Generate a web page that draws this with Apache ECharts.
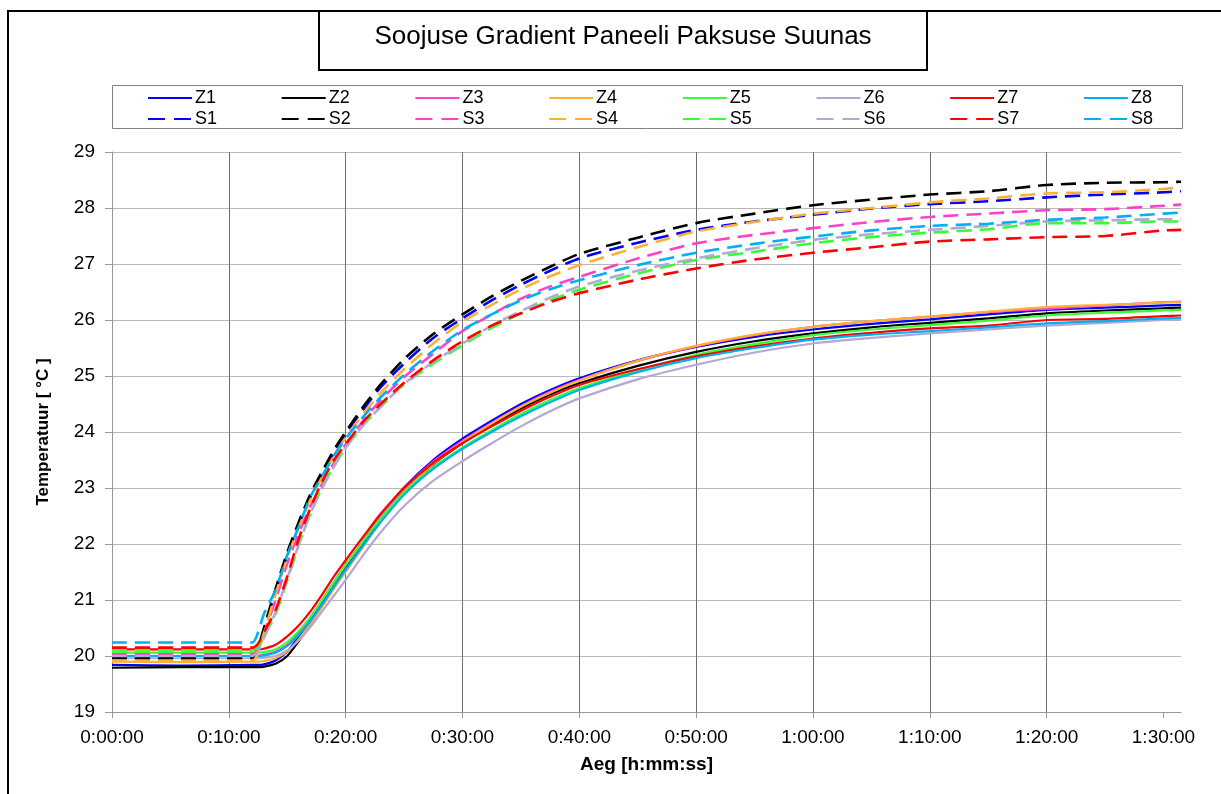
<!DOCTYPE html>
<html>
<head>
<meta charset="utf-8">
<script src="https://cdn.jsdelivr.net/npm/echarts@6/dist/echarts.min.js"></script>
<style>
  html, body { margin: 0; padding: 0; background: #fff; }
  #chart { width: 1221px; height: 794px; }
</style>
</head>
<body>
<div id="chart"></div>
<script>
// aeg minutites
const minutes = [0, 6, 12, 12.5, 13, 14, 15, 16, 17, 18, 19, 20, 21.5, 23, 25, 27.5, 30, 32.5, 35, 37.5, 40, 45, 50, 55, 60, 65, 70, 75, 80, 85, 90, 91.5];
const xTicks = [0, 10, 20, 30, 40, 50, 60, 70, 80, 90];

const z1 = [19.84, 19.83, 19.84, 19.84, 19.85, 19.92, 20.08, 20.35, 20.65, 20.97, 21.3, 21.6, 22.05, 22.5, 23.01, 23.5, 23.88, 24.2, 24.5, 24.75, 24.96, 25.28, 25.52, 25.7, 25.83, 25.93, 26.01, 26.1, 26.18, 26.22, 26.26, 26.27];
const z2 = [19.79, 19.8, 19.8, 19.8, 19.81, 19.86, 20.0, 20.27, 20.58, 20.9, 21.23, 21.55, 21.98, 22.42, 22.93, 23.42, 23.8, 24.12, 24.42, 24.67, 24.87, 25.18, 25.43, 25.62, 25.76, 25.87, 25.95, 26.03, 26.12, 26.17, 26.21, 26.22];
const z3 = [20.0, 20.0, 20.0, 20.0, 20.02, 20.08, 20.2, 20.42, 20.7, 21.0, 21.32, 21.62, 22.05, 22.49, 22.99, 23.47, 23.84, 24.16, 24.46, 24.72, 24.93, 25.27, 25.53, 25.73, 25.88, 25.98, 26.06, 26.14, 26.2, 26.26, 26.32, 26.33];
const z4 = [19.9, 19.89, 19.9, 19.9, 19.91, 19.96, 20.08, 20.3, 20.58, 20.88, 21.2, 21.5, 21.95, 22.41, 22.93, 23.43, 23.82, 24.15, 24.45, 24.7, 24.92, 25.27, 25.54, 25.74, 25.88, 25.98, 26.06, 26.15, 26.23, 26.27, 26.31, 26.32];
const z5 = [20.06, 20.06, 20.06, 20.06, 20.07, 20.12, 20.25, 20.45, 20.7, 21.0, 21.32, 21.63, 22.05, 22.46, 22.92, 23.37, 23.72, 24.03, 24.32, 24.57, 24.78, 25.1, 25.38, 25.57, 25.73, 25.83, 25.91, 25.99, 26.08, 26.13, 26.17, 26.18];
const z6 = [19.96, 19.96, 19.96, 19.96, 19.97, 20.0, 20.1, 20.28, 20.52, 20.8, 21.08, 21.36, 21.8, 22.21, 22.68, 23.13, 23.48, 23.8, 24.1, 24.37, 24.6, 24.94, 25.2, 25.42, 25.58, 25.68, 25.76, 25.83, 25.9, 25.95, 26.0, 26.01];
const z7 = [20.12, 20.12, 20.12, 20.12, 20.13, 20.2, 20.35, 20.55, 20.8, 21.1, 21.42, 21.71, 22.13, 22.54, 23.0, 23.45, 23.8, 24.1, 24.38, 24.63, 24.84, 25.12, 25.35, 25.53, 25.67, 25.77, 25.85, 25.9, 26.0, 26.02, 26.07, 26.08];
const z8 = [20.0, 20.0, 20.0, 20.0, 20.01, 20.06, 20.18, 20.38, 20.63, 20.92, 21.24, 21.54, 21.97, 22.39, 22.88, 23.34, 23.7, 24.0, 24.28, 24.53, 24.75, 25.07, 25.32, 25.5, 25.65, 25.74, 25.8, 25.87, 25.94, 25.98, 26.03, 26.04];

const s1 = [19.96, 19.95, 19.96, 20.1, 20.45, 21.15, 21.8, 22.35, 22.85, 23.25, 23.63, 23.97, 24.4, 24.8, 25.22, 25.68, 26.03, 26.35, 26.63, 26.88, 27.1, 27.38, 27.61, 27.76, 27.88, 27.99, 28.07, 28.12, 28.19, 28.24, 28.28, 28.3];
const s2 = [19.97, 19.96, 19.97, 20.15, 20.5, 21.2, 21.85, 22.4, 22.9, 23.3, 23.68, 24.0, 24.45, 24.85, 25.3, 25.75, 26.1, 26.42, 26.7, 26.95, 27.18, 27.47, 27.73, 27.9, 28.05, 28.15, 28.24, 28.3, 28.41, 28.45, 28.46, 28.47];
const s3 = [20.03, 20.03, 20.03, 20.12, 20.4, 21.0, 21.65, 22.2, 22.68, 23.08, 23.45, 23.78, 24.2, 24.57, 24.98, 25.4, 25.8, 26.1, 26.38, 26.6, 26.77, 27.1, 27.37, 27.52, 27.64, 27.75, 27.84, 27.9, 27.96, 27.98, 28.04, 28.06];
const s4 = [19.92, 19.92, 19.92, 20.05, 20.4, 21.1, 21.75, 22.3, 22.8, 23.2, 23.57, 23.9, 24.32, 24.7, 25.12, 25.58, 25.97, 26.27, 26.55, 26.78, 26.98, 27.3, 27.58, 27.75, 27.9, 28.0, 28.1, 28.17, 28.26, 28.28, 28.34, 28.37];
const s5 = [20.1, 20.1, 20.1, 20.15, 20.35, 20.75, 21.35, 22.0, 22.55, 23.02, 23.4, 23.72, 24.12, 24.45, 24.85, 25.22, 25.55, 25.86, 26.12, 26.35, 26.54, 26.83, 27.07, 27.22, 27.37, 27.48, 27.56, 27.62, 27.73, 27.73, 27.76, 27.76];
const s6 = [20.0, 20.0, 20.0, 20.08, 20.32, 20.78, 21.38, 22.0, 22.55, 23.0, 23.38, 23.72, 24.12, 24.45, 24.86, 25.25, 25.58, 25.9, 26.16, 26.4, 26.6, 26.88, 27.1, 27.28, 27.43, 27.53, 27.61, 27.68, 27.76, 27.78, 27.8, 27.8];
const s7 = [20.15, 20.15, 20.15, 20.22, 20.42, 20.82, 21.42, 22.1, 22.65, 23.12, 23.5, 23.78, 24.18, 24.5, 24.88, 25.28, 25.62, 25.9, 26.12, 26.32, 26.48, 26.72, 26.92, 27.08, 27.2, 27.3, 27.4, 27.44, 27.48, 27.5, 27.6, 27.61];
const s8 = [20.24, 20.24, 20.24, 20.42, 20.75, 21.18, 21.8, 22.32, 22.85, 23.22, 23.58, 23.88, 24.27, 24.62, 25.02, 25.45, 25.82, 26.1, 26.35, 26.55, 26.71, 26.98, 27.2, 27.36, 27.49, 27.6, 27.68, 27.72, 27.79, 27.83, 27.9, 27.92];

const zNames = ['Z1', 'Z2', 'Z3', 'Z4', 'Z5', 'Z6', 'Z7', 'Z8'];
const sNames = ['S1', 'S2', 'S3', 'S4', 'S5', 'S6', 'S7', 'S8'];
const colors = ['#0000ff', '#000000', '#ff40c8', '#ffb030', '#33ff33', '#b4a7d6', '#ff0000', '#00b0f0'];
const zValues = [z1, z2, z3, z4, z5, z6, z7, z8];
const sValues = [s1, s2, s3, s4, s5, s6, s7, s8];

const font = 'Liberation Sans, Arial, sans-serif';

function fmtTime(v) {
    const h = Math.floor(v / 60);
    const m = Math.round(v % 60);
    return h + ':' + (m < 10 ? '0' + m : m) + ':00';
}

const chart = echarts.init(document.getElementById('chart'));

const series = [];
const legends = [];
[zNames, sNames].forEach((names, row) => {
    const vals = row === 0 ? zValues : sValues;
    names.forEach((name, i) => {
        series.push({
            name: name,
            type: 'line',
            data: minutes.map((m, k) => [m, vals[i][k]]),
            symbol: 'none',
            showSymbol: false,
            smooth: 0.25,
            itemStyle: { color: colors[i] },
            lineStyle: {
                color: colors[i],
                width: row === 0 ? 2.2 : 2.6,
                type: row === 0 ? 'solid' : [15, 8]
            },
            z: row === 0 ? 2 : 3
        });
        legends.push({
            data: [name],
            left: 147 + 133.7 * i,
            top: row === 0 ? 89 : 110,
            padding: 0,
            itemWidth: 44,
            itemHeight: 14,
            selectedMode: false,
            itemStyle: { opacity: 0 },
            lineStyle: { width: 2, type: row === 0 ? 'solid' : [17, 9] },
            textStyle: { fontFamily: font, fontSize: 18, color: '#000', padding: [0, 0, 0, -2] }
        });
    });
});

chart.setOption({
    animation: false,
    backgroundColor: '#fff',
    title: {
        text: 'Soojuse Gradient Paneeli Paksuse Suunas',
        left: 623,
        top: 24,
        textAlign: 'center',
        padding: 0,
        textStyle: { fontFamily: font, fontSize: 26, fontWeight: 'normal', color: '#000' }
    },
    graphic: [
        { type: 'rect', shape: { x: 8, y: 11, width: 1240, height: 800 }, style: { fill: 'none', stroke: '#000', lineWidth: 2 }, silent: true },
        { type: 'rect', shape: { x: 319, y: 11, width: 608, height: 59 }, style: { fill: '#fff', stroke: '#000', lineWidth: 2 }, z: -1, silent: true },
        { type: 'rect', shape: { x: 112.5, y: 85.5, width: 1070, height: 43 }, style: { fill: 'none', stroke: '#808080', lineWidth: 1 }, silent: true }
    ],
    legend: legends,
    grid: { left: 112, top: 152, width: 1069, height: 560, containLabel: false },
    xAxis: {
        type: 'value',
        min: 0,
        max: 91.5,
        name: 'Aeg [h:mm:ss]',
        nameLocation: 'middle',
        nameGap: 43,
        nameTextStyle: { fontFamily: font, fontSize: 19, fontWeight: 'bold', color: '#000' },
        axisLine: { show: true, lineStyle: { color: '#999', width: 1 } },
        axisTick: { show: true, length: 6, lineStyle: { color: '#999' }, customValues: xTicks },
        axisLabel: { fontFamily: font, fontSize: 19, color: '#000', margin: 16, customValues: xTicks, formatter: fmtTime },
        splitLine: { show: true, showMaxLine: false, lineStyle: { color: '#707070', width: 1 } }
    },
    yAxis: {
        type: 'value',
        min: 19,
        max: 29,
        interval: 1,
        name: 'Temperatuur [ °C ]',
        nameLocation: 'middle',
        nameGap: 60,
        nameTextStyle: { fontFamily: font, fontSize: 17, fontWeight: 'bold', color: '#000' },
        axisLine: { show: true, lineStyle: { color: '#999', width: 1 } },
        axisTick: { show: true, length: 7, lineStyle: { color: '#999' } },
        axisLabel: { fontFamily: font, fontSize: 19, color: '#000', margin: 17 },
        splitLine: { show: true, lineStyle: { color: '#b8b8b8', width: 1 } }
    },
    series: series
});
</script>
</body>
</html>
